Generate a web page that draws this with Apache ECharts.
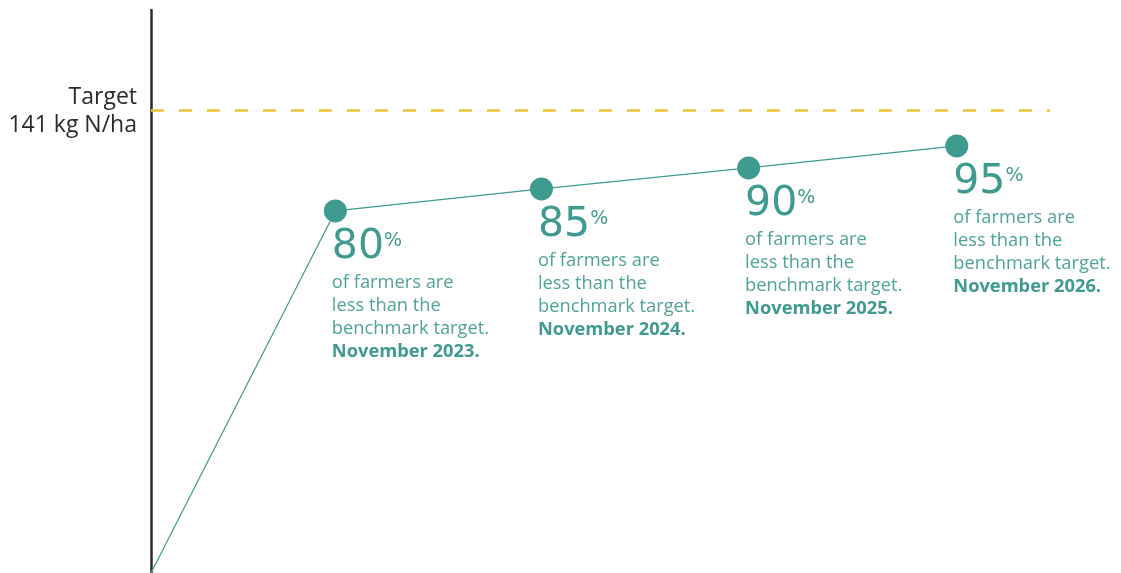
<!DOCTYPE html>
<html>
<head>
<meta charset="utf-8">
<script src="https://cdn.jsdelivr.net/npm/echarts@6/dist/echarts.min.js"></script>
<style>
html,body{margin:0;padding:0;background:#fff;}
#chart{width:1121px;height:573px;}
</style>
</head>
<body>
<div id="chart"></div>
<script>
// Data
const pointNames = ['Start', 'November 2023', 'November 2024', 'November 2025', 'November 2026'];
const xPositions = [0, 0.89, 1.885, 2.885, 3.89];
const yValues = [0, 110.3, 117, 123.4, 130.1];
const percentages = [null, 80, 85, 90, 95];
const dateLabels = [null, 'November 2023.', 'November 2024.', 'November 2025.', 'November 2026.'];
const targetValue = 141;
const targetTitle = 'Target';
const targetAmount = '141 kg N/ha';

const teal = '#3f9a8f';

const data = xPositions.map((x, i) => {
  const item = { name: pointNames[i], value: [x, yValues[i]] };
  if (percentages[i] === null) {
    item.symbol = 'none';
    item.label = { show: false };
  } else {
    item.label = {
      show: true,
      formatter: '{big|' + percentages[i] + '}{pct|%}\n{body|of farmers are}\n{body|less than the}\n{body|benchmark target.}\n{bold|' + dateLabels[i] + '}'
    };
  }
  return item;
});

const chart = echarts.init(document.getElementById('chart'));
chart.setOption({
  animation: false,
  grid: { left: 151, right: 71, top: 10, bottom: 0 },
  xAxis: {
    type: 'value', min: 0, max: 4.34,
    show: false
  },
  yAxis: {
    type: 'value', min: 0, max: 171.5,
    axisLine: { show: true, lineStyle: { color: '#2b2b2b', width: 2.5 } },
    axisTick: { show: false },
    splitLine: { show: false },
    axisLabel: {
      show: true,
      customValues: [targetValue],
      formatter: () => '{t|' + targetTitle + '}\n{n|' + targetAmount + '}',
      align: 'right',
      margin: 14,
      rich: {
        t: { fontFamily: 'Open Sans', fontSize: 23, lineHeight: 30, color: '#2b2b2b', padding: [4, 0, 0, 0], align: 'right' },
        n: { fontFamily: 'Open Sans', fontSize: 23, lineHeight: 30, color: '#2b2b2b', align: 'right' }
      }
    }
  },
  series: [{
    type: 'line',
    data: data,
    symbol: 'circle',
    symbolSize: 23,
    lineStyle: { color: teal, width: 1.2 },
    itemStyle: { color: teal },
    label: {
      position: [8, 25],
      align: 'left',
      verticalAlign: 'top',
      rich: {
        big: { fontFamily: 'DejaVu Sans', fontSize: 41, color: teal, lineHeight: 47, verticalAlign: 'bottom', padding: [0, 0, 4, 0] },
        pct: { fontFamily: 'DejaVu Sans', fontSize: 19, color: teal, lineHeight: 47, verticalAlign: 'bottom', padding: [0, 0, 21, 0] },
        body: { fontFamily: 'Open Sans', fontSize: 18.3, color: '#4ea39a', lineHeight: 23 },
        bold: { fontFamily: 'Open Sans', fontWeight: 'bold', fontSize: 18.3, color: teal, lineHeight: 23 }
      }
    },
    markLine: {
      silent: true,
      symbol: 'none',
      label: { show: false },
      lineStyle: { color: '#e8c43c', width: 2.5, type: [13, 15] },
      data: [{ yAxis: targetValue }]
    }
  }]
});
</script>
</body>
</html>
